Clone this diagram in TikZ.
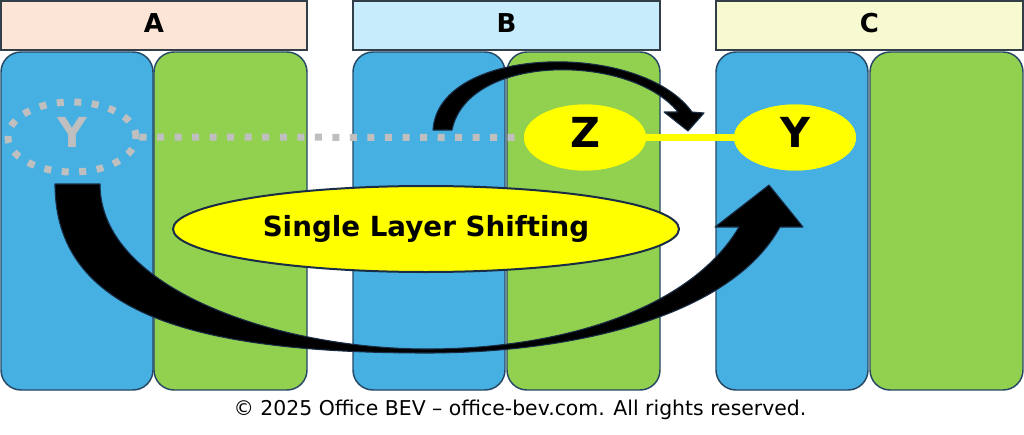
\documentclass[tikz,border=0pt]{standalone}
\usepackage{fontspec}
\setmainfont{DejaVu Sans}
\usetikzlibrary{shapes.geometric}
\definecolor{colblue}{RGB}{69,176,225}
\definecolor{colgreen}{RGB}{146,208,80}
\definecolor{colborder}{RGB}{38,72,100}
\definecolor{hdrA}{RGB}{252,228,214}
\definecolor{hdrB}{RGB}{199,236,252}
\definecolor{hdrC}{RGB}{247,249,208}
\definecolor{hdrborder}{RGB}{50,62,72}
\definecolor{dotgray}{RGB}{191,191,191}
\definecolor{navyline}{RGB}{25,45,70}
\definecolor{hiyellow}{RGB}{255,255,0}
\begin{document}
\begin{tikzpicture}[x=0.75pt,y=-0.75pt,
  colbox/.style={draw=colborder, line width=1.1pt, rounded corners=15pt,
    minimum height=253.5pt, inner sep=0pt},
  hdrbox/.style={draw=hdrborder, line width=1.5pt, minimum height=36.75pt,
    inner sep=0pt, text depth=3.75pt, font=\fontsize{19.5pt}{23pt}\selectfont\bfseries},
  dotline/.style={draw=dotgray, line width=5.25pt, dash pattern=on 5.25pt off 7.9pt},
  yellowell/.style={ellipse, fill=hiyellow, inner sep=0pt, minimum width=91.5pt,
    minimum height=49.5pt, text depth=7.5pt, font=\fontsize{31pt}{36pt}\selectfont\bfseries},
  blockarrow/.style={fill=black, draw=navyline, line width=0.8pt, line join=round}
]
\useasboundingbox (0,0) rectangle (1024,435);
\fill[white] (0,0) rectangle (1024,435);

% headers
\node[hdrbox, fill=hdrA, minimum width=229.5pt] (ha) at (154,25.5) {A};
\node[hdrbox, fill=hdrB, minimum width=230.25pt] (hb) at (506.5,25.5) {B};
\node[hdrbox, fill=hdrC, minimum width=230.25pt] (hc) at (869.5,25.5) {C};

% columns
\node[colbox, fill=colblue, minimum width=114pt] (ablue) at (77,221) {};
\node[colbox, fill=colgreen, minimum width=114.75pt] (agreen) at (230.5,221) {};
\node[colbox, fill=colblue, minimum width=114pt] (bblue) at (429,221) {};
\node[colbox, fill=colgreen, minimum width=114.75pt] (bgreen) at (583.5,221) {};
\node[colbox, fill=colblue, minimum width=114pt] (cblue) at (792,221) {};
\node[colbox, fill=colgreen, minimum width=114.75pt] (cgreen) at (946.5,221) {};

% old Y (dashed)
\node[ellipse, dotline, inner sep=0pt, minimum width=96pt, minimum height=52.5pt,
  text=dotgray, text depth=7.5pt, font=\fontsize{31pt}{36pt}\selectfont\bfseries] (yold) at (72,137) {Y};

% Z and new Y
\node[yellowell] (z) at (585,137.5) {Z};
\node[yellowell] (ynew) at (795,137.5) {Y};
\draw[dotline] (yold.east) -- (z.west);
\draw[hiyellow, line width=5pt] (z.east) -- (ynew.west);
\node[yellowell] at (z) {Z};
\node[yellowell] at (ynew) {Y};

% big ellipse
\node[ellipse, fill=hiyellow, draw=navyline, line width=1.5pt, inner sep=0pt,
  minimum width=379.5pt, minimum height=64.5pt,
  font=\fontsize{20.8pt}{25pt}\selectfont\bfseries] (sls) at (426,229) {Single Layer Shifting};

% big curved arrow
\draw[blockarrow] (55,184) .. controls (55,312) and (190,353) .. (427,353)
  .. controls (570,353) and (730,318) .. (780,227)
  -- (803,227) -- (769,185) -- (715,227) -- (739,227)
  .. controls (690,310) and (560,349) .. (427,349)
  .. controls (280,349) and (100,290) .. (100,184) -- cycle;

% small curved arrow
\draw[blockarrow] (433,130) .. controls (438,45) and (640,40) .. (692,112)
  -- (704,113) -- (688,131) -- (664,112) -- (678,112)
  .. controls (630,53) and (468,53) .. (452,130) -- cycle;

% copyright
\node[anchor=base, inner sep=0pt, font=\fontsize{15.3pt}{18pt}\selectfont] (copy) at (520,415)
  {© 2025 Office BEV – office-bev.com. All rights reserved.};
\end{tikzpicture}
\end{document}
